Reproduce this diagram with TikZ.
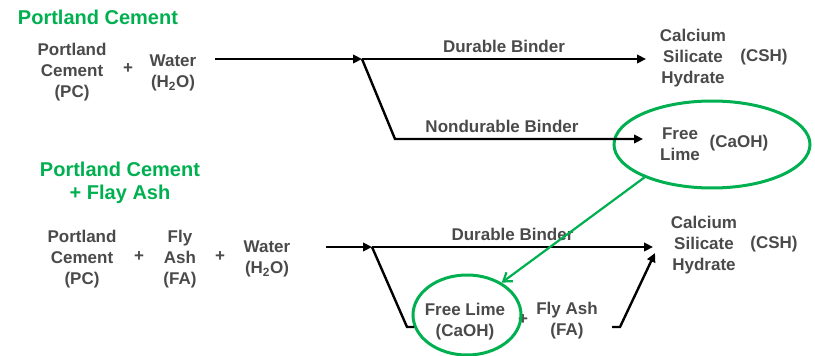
\documentclass[tikz,border=0pt]{standalone}
\usepackage{fontspec}
\setmainfont{Liberation Sans}
\usetikzlibrary{arrows.meta,shapes.geometric}
\definecolor{txtgray}{HTML}{4A4A4A}
\definecolor{mygreen}{HTML}{00B050}

\begin{document}
\begin{tikzpicture}[x=1pt,y=-1pt,
  lbl/.style={font=\fontsize{17}{21}\selectfont\bfseries, text=txtgray, align=center, inner sep=0pt},
  ttl/.style={font=\fontsize{20}{23}\selectfont\bfseries, text=mygreen, align=center, inner sep=0pt},
  flow/.style={line width=2.4pt, black, -{Triangle[length=9pt,width=8.5pt]}},
  bar/.style={line width=2.4pt, black},
  ring/.style={draw=mygreen, line width=3pt, ellipse, inner sep=0pt},
  pointer/.style={draw=mygreen, line width=2.2pt, -{Straight Barb[length=8pt,width=11pt,line width=2.2pt]}}]
\useasboundingbox (0,0) rectangle (815,356);

% ---------- Portland cement alone ----------
\node[ttl] (title1) at (98,17) {Portland Cement};
\node[lbl] (pc1) at (72,72) {Portland\\Cement\\(PC)};
\node[lbl] (plus1) at (128,69) {+};
\node[lbl] (water1) at (173,73) {Water\\(H\textsubscript{2}O)};

\node[lbl] (csh1) at (693,58) {Calcium\\Silicate\\Hydrate};
\node[lbl] (csh1tag) at (764,57) {(CSH)};
\node[lbl] (lime1) at (680,144) {Free\\Lime};
\node[lbl] (caoh1) at (739,143) {(CaOH)};
\node[ring, minimum width=196pt, minimum height=87pt] (ring1) at (712,144.5) {};

\coordinate (s1) at (215,59);
\coordinate (j1) at (362,59);
\coordinate (k1) at (395,139);
\coordinate (t1) at (646,59);
\coordinate (u1) at (643,139);

\draw[flow] (s1) -- (j1);
\draw[flow] (j1) -- node[lbl, above=5pt] (db1) {Durable Binder} (t1);
\draw[flow] (j1) -- (k1) -- node[lbl, above=5pt, xshift=-17pt] (nb1) {Nondurable Binder} (u1);

% ---------- Portland cement with fly ash ----------
\node[ttl] (title2) at (120,183) {Portland Cement\\+ Flay Ash};
\node[lbl] (pc2) at (82,259) {Portland\\Cement\\(PC)};
\node[lbl] (plus2) at (139,257) {+};
\node[lbl] (fa2) at (180,259) {Fly\\Ash\\(FA)};
\node[lbl] (plus3) at (220,257) {+};
\node[lbl] (water2) at (267,259) {Water\\(H\textsubscript{2}O)};

\node[lbl] (csh2) at (704,245) {Calcium\\Silicate\\Hydrate};
\node[lbl] (csh2tag) at (774,244) {(CSH)};
\node[lbl] (lime2) at (465,321.5) {Free Lime\\(CaOH)};
\node[lbl] (plus4) at (523,320) {+};
\node[lbl] (fa3) at (567,321) {Fly Ash\\(FA)};
\node[ring, minimum width=108pt, minimum height=80pt] (ring2) at (467,315) {};

\coordinate (s2) at (326,247);
\coordinate (j2) at (372,247);
\coordinate (t2) at (653,247);
\coordinate (k2) at (407,327);
\coordinate (m2) at (414,327);
\coordinate (f2) at (612,327);
\coordinate (g2) at (620,327);
\coordinate (h2) at (655,253);

\draw[flow] (s2) -- (j2);
\draw[flow] (j2) -- node[lbl, above=5pt] (db2) {Durable Binder} (t2);
\draw[bar] (j2) -- (k2) -- (m2);
\draw[flow] (f2) -- (g2) -- (h2);

% free lime from plain cement is taken up by the fly ash
\draw[pointer] (ring1.206) -- (ring2.43);
\end{tikzpicture}
\end{document}
